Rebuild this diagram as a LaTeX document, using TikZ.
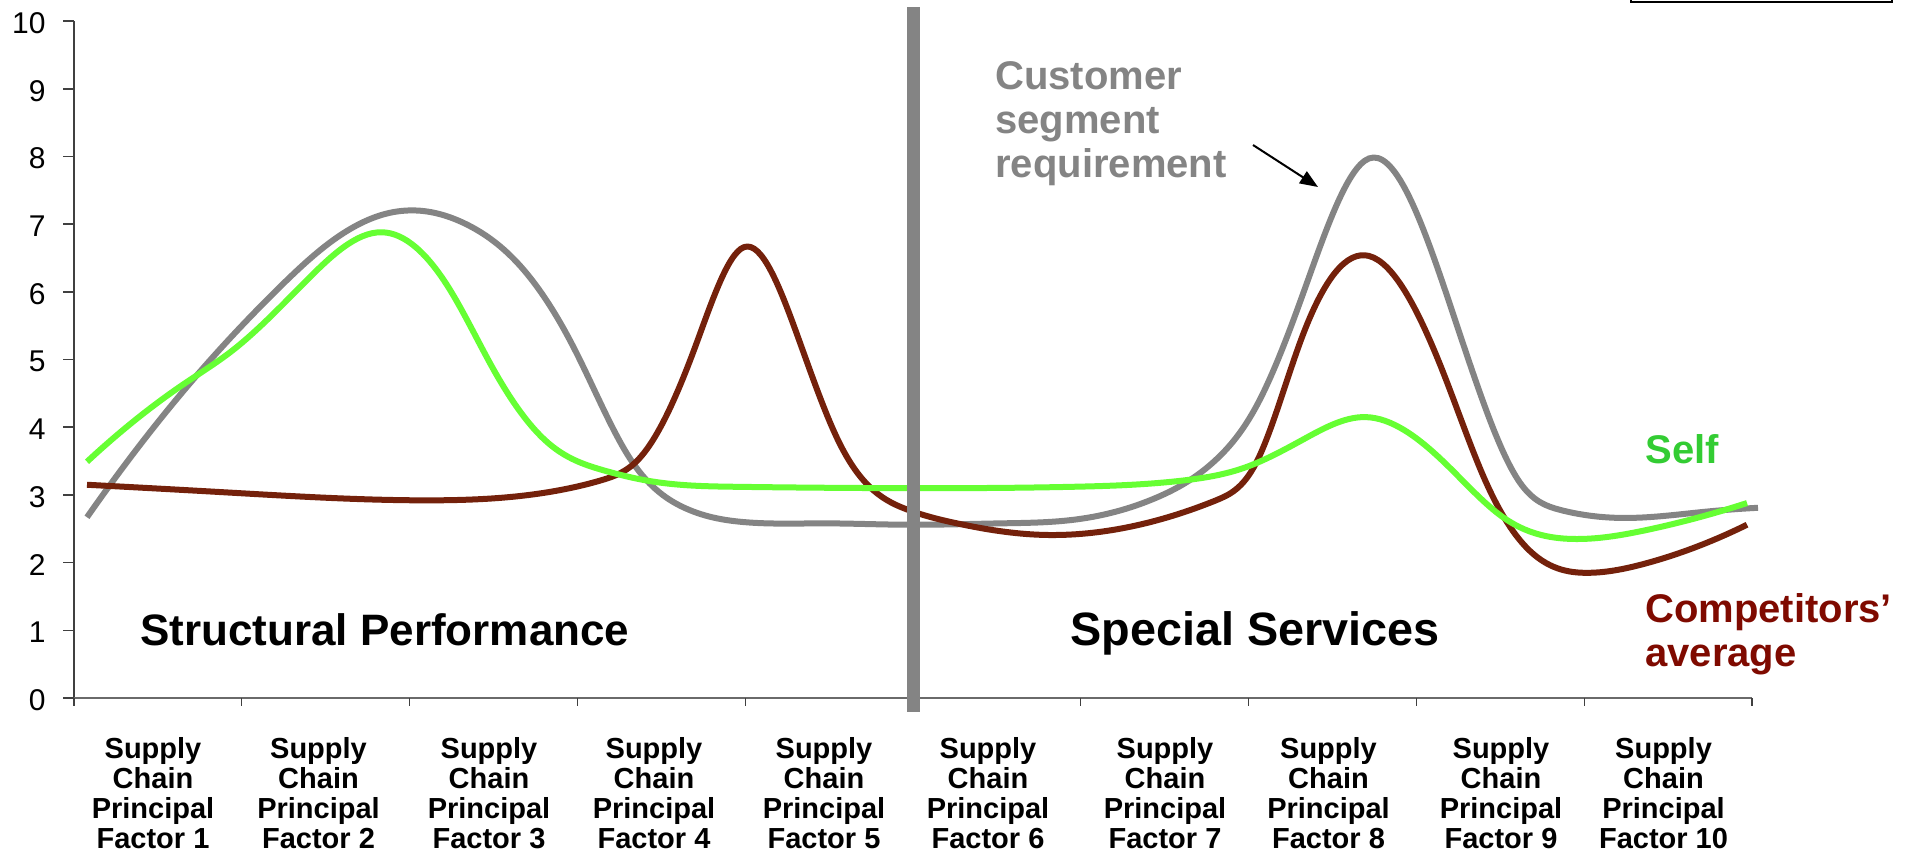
\documentclass[tikz,border=0pt]{standalone}
\usepackage{fontspec}
\setmainfont{Liberation Sans}
\usetikzlibrary{arrows.meta,hobby}
\definecolor{custgray}{HTML}{848484}
\definecolor{selfgreen}{HTML}{66FF33}
\definecolor{selftext}{HTML}{33CC33}
\definecolor{compred}{HTML}{74210B}
\definecolor{comptext}{HTML}{7F0A00}
\definecolor{axisgray}{HTML}{404040}
\begin{document}
\begin{tikzpicture}[x=0.5pt,y=-0.5pt,
  curveline/.style={line width=3pt, line join=round, use Hobby shortcut},
  ylab/.style={inner sep=0pt, anchor=east, font=\fontsize{15}{16}\selectfont},
  flab/.style={inner sep=0pt, anchor=north, align=center, font=\bfseries\fontsize{14.5}{15}\selectfont},
  biglab/.style={inner sep=0pt, anchor=base west, font=\bfseries\fontsize{22}{24}\selectfont},
  sidelab/.style={inner sep=0pt, anchor=base west, font=\bfseries\fontsize{20}{22}\selectfont}]
\useasboundingbox (0,0) rectangle (1910,859);
\fill[white] (0,0) rectangle (1910,859);

% top-right box (cut off)
\draw[line width=1.2pt] (1631,-30) rectangle (1892,2);

% axes
\draw[axisgray, line width=1pt] (74,21) -- (74,698);
\foreach \k in {0,...,10}{
  \draw[axisgray, line width=0.8pt] (63,{698-67.7*\k}) -- (74,{698-67.7*\k});
  \node[ylab] (y\k) at (46,{700-67.7*\k}) {\k};
}
\draw[custgray!80!black, line width=1pt] (74,698) -- (1752,698);
\foreach \k in {0,...,10}{
  \draw[axisgray, line width=0.6pt] ({74+167.8*\k},698) -- ({74+167.8*\k},706);
}

% curves
\begin{scope}[shift={(0,698)}, yscale=-67.7]
\draw[curveline, custgray] (87,2.67) .. (190,4.65) .. (277,6.03) .. (331,6.74) .. (385,7.15)
 .. (418,7.2) .. (466,7.0) .. (521,6.37) .. (575,5.14) .. (629,3.56) .. (683,2.82) .. (743,2.6)
 .. (825,2.58) .. (905,2.56) .. (1000,2.58) .. (1072,2.63) .. (1158,2.97) .. (1216,3.52) .. (1256,4.3)
 .. (1302,5.93) .. (1369,7.97) .. (1445,6.03) .. (1485,4.3) .. (1520,3.18)
 .. (1560,2.78) .. (1623,2.66) .. (1704,2.75) .. (1758,2.81);
\draw[curveline, compred] (87,3.15) .. (223,3.04) .. (418,2.92) .. (548,3.04) .. (602,3.22) .. (640,3.55)
 .. (694,5.14) .. (744,6.66) .. (798,5.33) .. (840,3.75)
 .. (908,2.78) .. (957,2.58) .. (1043,2.41) .. (1130,2.53) .. (1216,2.92) .. (1256,3.47) .. (1302,5.33)
 .. (1369,6.53) .. (1445,4.74) .. (1485,3.22) .. (1526,2.23) .. (1589,1.85)
 .. (1646,1.99) .. (1747,2.56);
\draw[curveline, selfgreen] (87,3.49) .. (185,4.65) .. (233,5.14) .. (304,6.13) .. (382,6.88)
 .. (450,6.03) .. (494,4.84) .. (548,3.77) .. (602,3.37) .. (656,3.19) .. (737,3.12) .. (905,3.1)
 .. (1072,3.12) .. (1187,3.22) .. (1244,3.4) .. (1302,3.81) .. (1365,4.15) .. (1445,3.47)
 .. (1503,2.67) .. (1572,2.35) .. (1646,2.48) .. (1747,2.88);
\end{scope}

% divider bar
\fill[custgray] (907,7) rectangle (920,712);

% category labels
\foreach \n/\cx in {1/153,2/318.5,3/489,4/654,5/824,6/988,7/1165,8/1328.5,9/1501,10/1663.5}{
  \node[flab] (f\n) at (\cx,737) {Supply\\Chain\\Principal\\Factor \n};
}

% section titles
\node[biglab] (structural) at (140,645) {Structural Performance};
\node[biglab, font=\bfseries\fontsize{23.4}{25}\selectfont] (special) at (1070,645) {Special Services};

% legend labels
\node[sidelab, text=custgray] (cust1) at (995,89) {Customer};
\node[sidelab, text=custgray] (cust2) at (995,133) {segment};
\node[sidelab, text=custgray] (cust3) at (995,177) {requirement};
\node[sidelab, text=selftext] (self) at (1645,463) {Self};
\node[sidelab, text=comptext] (comp1) at (1645,622) {Competitors’};
\node[sidelab, text=comptext] (comp2) at (1645,666) {average};

% arrow
\coordinate (arrS) at (1253,145);
\coordinate (arrE) at (1318,187);
\draw[line width=1pt, -{Triangle[length=9pt,width=7pt]}] (arrS) -- (arrE);
\end{tikzpicture}
\end{document}
